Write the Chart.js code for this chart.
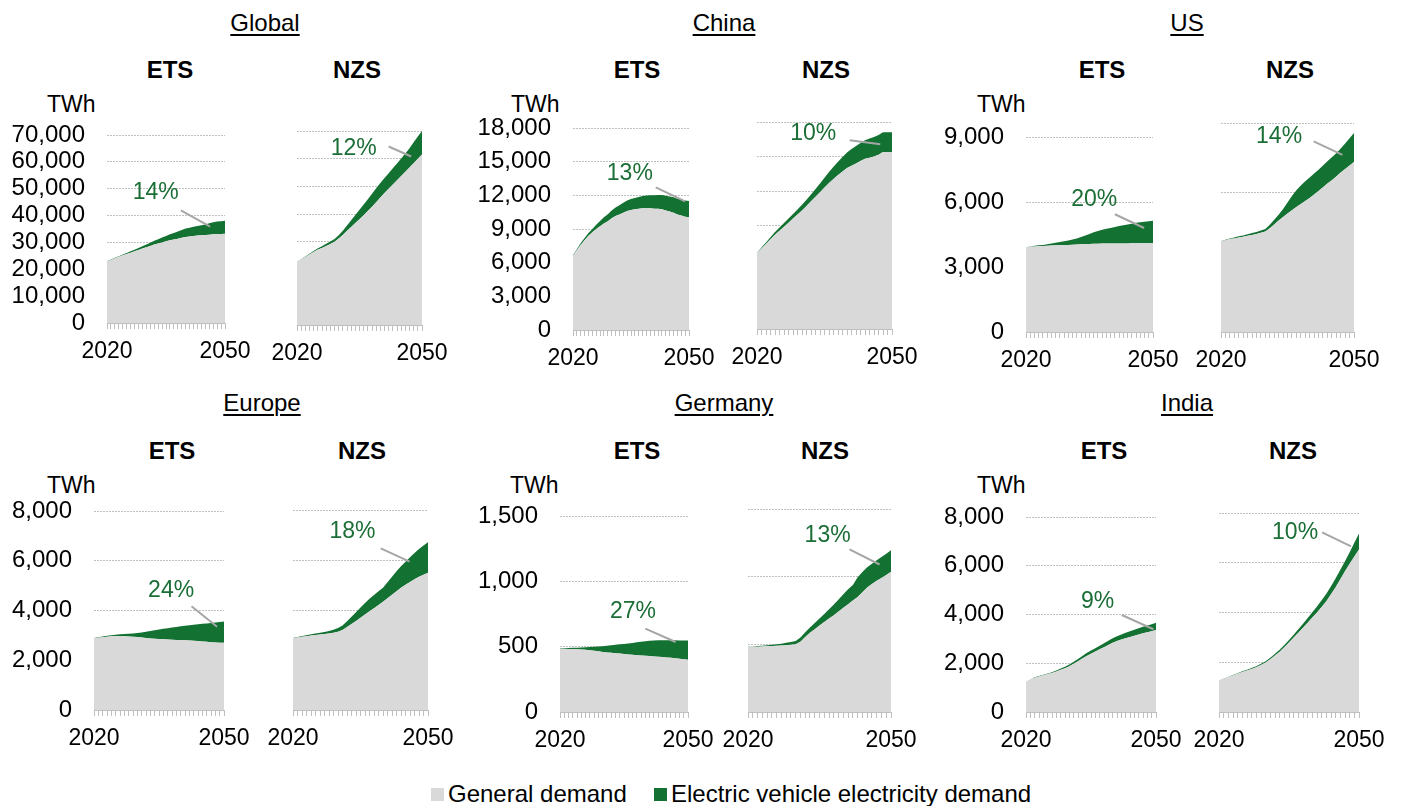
<!DOCTYPE html>
<html><head><meta charset="utf-8">
<script src="https://cdn.jsdelivr.net/npm/chart.js@4.4.1/dist/chart.umd.min.js"></script>
<style>
html,body{margin:0;padding:0;background:#fff;}
body{width:1402px;height:806px;position:relative;overflow:hidden;font-family:"Liberation Sans",Arial,sans-serif;color:#000;}
.t{position:absolute;white-space:nowrap;transform:translate(-50%,-50%);line-height:1;}
.reg{font-size:24px;text-decoration:underline;text-underline-offset:3px;text-decoration-thickness:1.5px;}
.sc{font-size:24px;font-weight:bold;}
.unit{position:absolute;font-size:23px;transform:translateY(-50%);line-height:1;}
canvas{position:absolute;}
.lg{position:absolute;font-size:24px;top:794px;transform:translateY(-50%);display:flex;align-items:center;white-space:nowrap;line-height:1;}
.sw{width:13px;height:13px;display:inline-block;margin-right:4px;}
</style></head><body>
<script>
// ---------- DATA ----------
const years = [2020,2021,2022,2023,2024,2025,2026,2027,2028,2029,2030,2031,2032,2033,2034,2035,2036,2037,2038,2039,2040,2041,2042,2043,2044,2045,2046,2047,2048,2049,2050];
const regions = ['Global','China','US','Europe','Germany','India'];
const scenarios = ['ETS','NZS'];
const seriesNames = ['General demand','Electric vehicle electricity demand'];
const axisMax  = [70000, 18000, 9000, 8000, 1500, 8000];
const axisStep = [10000, 3000, 3000, 2000, 500, 2000];
const unitLabel = 'TWh';

const globalEtsGeneral = [22900,23500,24100,24700,25200,25700,26200,26700,27200,27700,28200,28700,29200,29600,30000,30400,30800,31100,31400,31700,32000,32200,32400,32600,32700,32800,32900,33000,33100,33100,33200];
const globalEtsEv = [50,100,150,200,300,400,500,600,750,900,1050,1200,1400,1600,1800,2000,2200,2450,2700,2950,3200,3300,3400,3500,3700,3900,4200,4500,4700,4800,4850];
const globalNzsGeneral = [22900,23700,24500,25400,26300,27200,27800,28500,29200,30000,31200,32500,34000,35400,36800,38200,39600,41100,42700,44300,46000,47600,49200,50700,52200,53800,55300,56800,58400,60000,61500];
const globalNzsEv = [0,100,200,300,400,500,650,800,900,1000,1200,1500,1900,2400,2900,3400,3900,4300,4700,5000,5200,5400,5600,5900,6100,6300,6600,7000,7500,8000,8500];

const chinaEtsGeneral = [6600,7100,7600,8000,8400,8700,9000,9250,9500,9700,9950,10150,10300,10450,10600,10700,10750,10800,10850,10850,10850,10800,10800,10750,10650,10550,10450,10300,10200,10100,10050];
const chinaEtsEv = [50,100,150,200,250,300,380,460,540,620,700,760,820,880,930,980,1020,1060,1100,1130,1160,1200,1240,1280,1320,1350,1380,1400,1420,1440,1450];
const chinaNzsGeneral = [6600,7000,7400,7800,8200,8550,8900,9250,9600,9950,10300,10700,11100,11500,11900,12300,12700,13050,13400,13700,14000,14200,14400,14600,14800,14900,15000,15150,15400,15400,15400];
const chinaNzsEv = [30,80,130,180,230,280,320,360,400,450,500,550,600,680,760,850,950,1050,1150,1250,1350,1450,1520,1580,1620,1660,1700,1720,1700,1700,1700];

const usEtsGeneral = [3900,3930,3950,3960,3970,3980,3990,4000,4000,4010,4020,4030,4040,4050,4060,4060,4070,4070,4080,4080,4080,4090,4090,4090,4090,4100,4100,4100,4100,4100,4100];
const usEtsEv = [10,20,30,40,50,70,90,120,150,180,200,240,280,330,390,460,530,590,640,680,720,760,800,840,870,900,940,970,990,1010,1030];
const usNzsGeneral = [3900,3950,4000,4030,4070,4100,4140,4180,4220,4270,4330,4470,4630,4800,4950,5100,5240,5380,5510,5640,5770,5920,6070,6230,6390,6540,6700,6870,7020,7170,7320];
const usNzsEv = [10,20,30,40,50,60,70,80,90,100,110,150,200,250,350,480,620,720,800,850,880,900,920,940,960,980,1000,1030,1100,1170,1250];

const europeEtsGeneral = [2880,2900,2920,2940,2960,2970,2965,2960,2950,2940,2930,2910,2890,2875,2865,2855,2845,2835,2825,2815,2810,2800,2790,2780,2770,2755,2740,2725,2715,2705,2700];
const europeEtsEv = [10,20,30,40,50,60,80,100,120,140,170,210,260,300,340,380,420,450,490,520,560,590,620,650,680,710,740,770,800,830,860];
const europeNzsGeneral = [2870,2900,2930,2950,2980,3000,3020,3040,3060,3090,3130,3200,3320,3440,3560,3690,3820,3950,4070,4200,4330,4470,4610,4750,4890,5010,5120,5230,5330,5410,5490];
const europeNzsEv = [10,20,30,40,50,60,70,80,100,120,150,180,230,290,350,410,460,500,530,550,560,640,720,800,860,920,990,1050,1110,1170,1220];

const germanyEtsGeneral = [485,484,483,482,480,478,476,472,468,464,460,456,453,450,447,444,441,438,435,432,430,428,425,423,420,418,415,412,408,404,400];
const germanyEtsEv = [3,5,7,9,12,15,20,26,32,38,44,51,58,65,71,77,84,91,98,105,112,118,122,126,129,131,134,137,140,144,148];
const germanyNzsGeneral = [481,482,483,484,485,487,489,491,494,497,500,520,555,585,612,640,665,690,715,742,770,797,824,850,885,920,945,970,990,1012,1036];
const germanyNzsEv = [1,2,4,6,8,10,12,14,17,20,25,30,35,40,45,50,60,70,80,90,100,110,115,145,150,150,150,152,155,158,160];

const indiaEtsGeneral = [1250,1340,1410,1460,1510,1555,1600,1660,1730,1800,1880,1980,2080,2190,2300,2390,2480,2570,2660,2750,2840,2910,2970,3030,3080,3130,3180,3230,3270,3310,3360];
const indiaEtsEv = [5,8,11,15,20,25,32,40,50,60,70,80,92,104,116,128,140,152,164,176,188,200,212,224,236,248,258,268,278,290,300];
const indiaNzsGeneral = [1260,1330,1400,1470,1540,1610,1670,1730,1800,1890,1990,2120,2270,2420,2600,2790,2990,3190,3390,3590,3800,4000,4220,4450,4730,5020,5340,5660,5960,6250,6530];
const indiaNzsEv = [5,8,12,16,20,25,30,35,40,45,55,65,75,85,95,105,120,140,160,185,210,240,270,300,330,360,380,400,460,550,650];

// EV share labels (panel order: Global ETS, Global NZS, China ETS, China NZS, US ..., Europe ..., Germany ..., India ...)
const shareLabels = ['14%','12%','13%','10%','20%','14%','24%','18%','27%','13%','9%','10%'];

// ---------- LAYOUT (positions kept apart from data) ----------
const GRAY = '#d9d9d9', GREEN = '#137232', GREEN_TXT = '#1b6e35', FONT = '"Liberation Sans", Arial, sans-serif';
const panelData = [
  [globalEtsGeneral, globalEtsEv], [globalNzsGeneral, globalNzsEv],
  [chinaEtsGeneral, chinaEtsEv], [chinaNzsGeneral, chinaNzsEv],
  [usEtsGeneral, usEtsEv], [usNzsGeneral, usNzsEv],
  [europeEtsGeneral, europeEtsEv], [europeNzsGeneral, europeNzsEv],
  [germanyEtsGeneral, germanyEtsEv], [germanyNzsGeneral, germanyNzsEv],
  [indiaEtsGeneral, indiaEtsEv], [indiaNzsGeneral, indiaNzsEv]
];
// plot areas: left, top, right, bottom
const plotRects = [
  [107,135,225,323],[297,131,422,325],
  [573,128,689,330],[757,122,892,329],
  [1026,137,1153,332],[1221,123,1354,332],
  [94,511,224,710],[293,510,428,710],
  [560,516,688,712],[748,509,891,712],
  [1026,517,1156,712],[1219,513,1359,712]
];
// annotation anchors in data units [year, value]
const noteAt = [[2032.4,48600],[2033.6,63800],[2034.7,13930],[2032.5,16990],[2036.1,6130],[2033.1,8425],[2037.8,4816],[2033.2,7133],[2037.1,765],[2036.7,1300],[2036.5,4525],[2036.3,7196]];
const noteFrom = [[2038.8,41900],[2042,64400],[2041.4,12710],[2040.6,16420],[2041,5435],[2040.9,8210],[2042.5,4174],[2039.5,6467],[2040,638],[2041.3,1201],[2042.1,3980],[2042.1,7223]];
const noteTo = [[2046.2,35900],[2047.4,60800],[2049,11460],[2047.4,16070],[2047.9,4800],[2047.4,7630],[2048.4,3344],[2045.9,5933],[2047.1,536],[2047.6,1090],[2049.4,3394],[2048.3,6660]];
const titlePos = [[265,23],[724,23],[1187,23],[262,403],[724,403],[1187,403]];
const scenPos = [[170,357,70],[637,826,70],[1102,1290,70],[172,362,451],[637,825,451],[1104,1293,451]];
const unitPos = [[47,104],[511,104],[977,104],[47,485],[510,485],[977,485]];

Chart.defaults.font.family = FONT;
Chart.defaults.font.size = 23;
Chart.defaults.color = '#000';

const notePlugin = {
  id: 'shareNote',
  afterDatasetsDraw(chart, args, o) {
    if (!o || !o.text) return;
    const xs = chart.scales.x, ys = chart.scales.y, ctx = chart.ctx;
    const px = v => xs.getPixelForValue(v - years[0]);
    ctx.save();
    ctx.strokeStyle = '#a6a6a6'; ctx.lineWidth = 2;
    ctx.beginPath();
    ctx.moveTo(px(o.from[0]), ys.getPixelForValue(o.from[1]));
    ctx.lineTo(px(o.to[0]), ys.getPixelForValue(o.to[1]));
    ctx.stroke();
    ctx.fillStyle = GREEN_TXT; ctx.font = '23px ' + FONT;
    ctx.textAlign = 'center'; ctx.textBaseline = 'middle';
    ctx.fillText(o.text, px(o.at[0]), ys.getPixelForValue(o.at[1]));
    ctx.restore();
  }
};

function addDiv(cls, html, x, y) {
  const d = document.createElement('div');
  d.className = cls; d.innerHTML = html;
  d.style.left = x + 'px'; d.style.top = y + 'px';
  document.body.appendChild(d);
}

function makePanel(p) {
  const r = Math.floor(p / 2), showY = (p % 2 === 0);
  const rect = plotRects[p];
  const yW = showY ? 100 : 0, padL = showY ? 105 : 40, padR = 40, xH = 50, padB = 55;
  // ETS: y tick labels reserve half a line + tick padding (≈36px) above the plot area
  const padT = showY ? 37 : 22;
  const plotH = rect[3] - rect[1];
  const w = rect[2] - rect[0] + padL + padR, h = plotH + padT + padB;
  const cv = document.createElement('canvas');
  cv.width = w; cv.height = h;
  cv.style.left = (rect[0] - padL) + 'px'; cv.style.top = (rect[1] - padT) + 'px';
  cv.style.width = w + 'px'; cv.style.height = h + 'px';
  document.body.appendChild(cv);
  const [gen, ev] = panelData[p];
  new Chart(cv, {
    type: 'line',
    data: {
      labels: years.map(String),
      datasets: [
        { label: seriesNames[0], data: gen, backgroundColor: GRAY, borderWidth: 0, pointRadius: 0, fill: 'origin', tension: 0 },
        { label: seriesNames[1], data: ev, backgroundColor: GREEN, borderWidth: 0, pointRadius: 0, fill: '-1', tension: 0 }
      ]
    },
    options: {
      responsive: false, animation: false,
      layout: { padding: { left: padL - yW, right: padR, top: padT, bottom: padB - xH } },
      plugins: {
        legend: { display: false }, tooltip: { enabled: false },
        shareNote: { text: shareLabels[p], at: noteAt[p], from: noteFrom[p], to: noteTo[p] }
      },
      scales: {
        x: {
          type: 'category', offset: false,
          grid: { drawOnChartArea: false, drawTicks: true, tickLength: 6, color: '#bfbfbf', lineWidth: 1 },
          border: { display: true, color: '#bfbfbf', width: 1 },
          ticks: { autoSkip: false, maxRotation: 0, minRotation: 0, padding: 9, color: '#000',
            callback: (v, i) => (i === 0 || i === years.length - 1) ? String(years[i]) : '' },
          afterFit: s => { s.height = xH; }
        },
        y: {
          stacked: true, min: 0, max: axisMax[r],
          ticks: { stepSize: axisStep[r], display: showY, autoSkip: false, padding: 22, color: '#000',
            font: { size: 24 },
            callback: v => Number(v).toLocaleString('en-US') },
          grid: { drawTicks: false, color: '#c0c0c0', lineWidth: 1 },
          border: { display: false, dash: [2, 1] },
          afterFit: s => { s.width = yW; }
        }
      }
    },
    plugins: [notePlugin]
  });
}

for (let r = 0; r < regions.length; r++) {
  addDiv('t reg', regions[r], titlePos[r][0], titlePos[r][1]);
  addDiv('t sc', scenarios[0], scenPos[r][0], scenPos[r][2]);
  addDiv('t sc', scenarios[1], scenPos[r][1], scenPos[r][2]);
  addDiv('unit', unitLabel, unitPos[r][0], unitPos[r][1]);
}
for (let p = 0; p < 12; p++) makePanel(p);

// legend
addDiv('lg', '<span class="sw" style="background:' + GRAY + '"></span>' + seriesNames[0], 431, 794);
addDiv('lg', '<span class="sw" style="background:' + GREEN + '"></span>' + seriesNames[1], 654, 794);
</script>
</body></html>
